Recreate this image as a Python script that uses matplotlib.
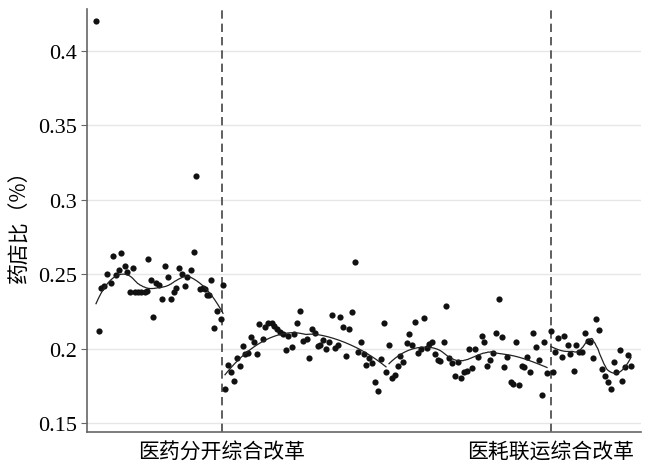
import numpy as np
import matplotlib
matplotlib.use("Agg")
import matplotlib.pyplot as plt

# period index (arbitrary time units) and pharmacy share
x1 = [0, 3, 5, 8, 11, 15, 17, 20, 23, 25, 29, 31, 34, 37, 39, 42, 45, 49, 51, 52,
      55, 57, 60, 63, 66, 69, 72, 75, 78, 80, 83, 86, 89, 91, 95, 98, 100, 104, 107,
      109, 111, 113, 115, 118, 121, 125, 127]
y1 = [0.420, 0.212, 0.2405, 0.242, 0.250, 0.244, 0.262, 0.2495, 0.253, 0.264, 0.2555,
      0.2515, 0.238, 0.254, 0.238, 0.238, 0.238, 0.238, 0.239, 0.2604, 0.246, 0.221,
      0.244, 0.243, 0.233, 0.2555, 0.248, 0.233, 0.238, 0.241, 0.254, 0.250, 0.242,
      0.248, 0.2526, 0.265, 0.3156, 0.240, 0.241, 0.240, 0.236, 0.236, 0.246, 0.214,
      0.225, 0.220, 0.243]

x2 = [129, 132, 135, 138, 141, 144, 147, 149, 152, 155, 158, 161, 163, 167, 169, 172,
      176, 178, 181, 184, 187, 190, 192, 196, 198, 201, 204, 207, 211, 213, 216, 219,
      222, 224, 227, 230, 233, 236, 239, 242, 244, 247, 250, 253, 256, 259, 262, 265,
      268, 270, 273, 276, 279, 282, 285, 288, 290]
y2 = [0.1729, 0.1892, 0.184, 0.178, 0.1934, 0.1885, 0.2015, 0.1963, 0.197, 0.2075,
      0.2046, 0.1963, 0.2164, 0.2064, 0.2142, 0.2171, 0.2171, 0.2149, 0.213, 0.2113,
      0.2097, 0.199, 0.2082, 0.2008, 0.2097, 0.2171, 0.2251, 0.2053, 0.2064, 0.1934,
      0.2131, 0.2108, 0.2019, 0.2024, 0.2059, 0.1997, 0.2046, 0.2225, 0.2001, 0.2024,
      0.221, 0.2142, 0.1952, 0.2131, 0.2247, 0.2582, 0.1974, 0.2041, 0.1963, 0.189,
      0.1934, 0.1901, 0.1774, 0.1718, 0.193, 0.2171, 0.1845]

x3 = [293, 296, 299, 302, 304, 307, 311, 313, 316, 319, 322, 325, 328, 331, 333, 336,
      339, 342, 344, 348, 350, 353, 356, 359, 362, 365, 368, 371, 373, 376, 379, 382,
      386, 388, 391, 394, 397, 400, 403, 406, 408, 411, 415, 417, 420, 423, 426, 428,
      431, 434, 437, 440, 443, 446, 448, 451]
y3 = [0.2026, 0.180, 0.1822, 0.1885, 0.1948, 0.1908, 0.2037, 0.2097, 0.2024, 0.218,
      0.197, 0.1997, 0.2204, 0.2003, 0.203, 0.2046, 0.1963, 0.1925, 0.1918, 0.2041,
      0.2283, 0.1934, 0.1903, 0.1814, 0.1912, 0.180, 0.184, 0.1851, 0.1997, 0.1871,
      0.1997, 0.1941, 0.2082, 0.2041, 0.1885, 0.1923, 0.197, 0.2108, 0.2332, 0.2079,
      0.1874, 0.1945, 0.1774, 0.1762, 0.2046, 0.1756, 0.1885, 0.1874, 0.1941, 0.184,
      0.2104, 0.2008, 0.1925, 0.1689, 0.2046, 0.1836]

x4 = [455, 457, 459, 462, 466, 468, 472, 474, 478, 480, 483, 486, 489, 492, 494, 497,
      500, 503, 506, 509, 512, 515, 518, 520, 524, 526, 529, 532, 535]
y4 = [0.2115, 0.184, 0.1975, 0.2068, 0.1941, 0.2086, 0.2024, 0.1963, 0.1851, 0.2024,
      0.1975, 0.1975, 0.2104, 0.2053, 0.2041, 0.1934, 0.2198, 0.2126, 0.1863, 0.1818,
      0.1778, 0.1729, 0.1912, 0.1845, 0.1992, 0.1784, 0.1878, 0.1956, 0.1881]

reforms = [126, 455]
reform_labels = ["医药分开综合改革", "医耗联运综合改革"]
yticks = [0.15, 0.2, 0.25, 0.3, 0.35, 0.4]


def loess(x, y, span, iters=3, c=12):
    # local quadratic fit, tricube weights; robust passes only drop gross outliers
    x = np.asarray(x, float)
    y = np.asarray(y, float)
    n = len(x)
    k = int(np.ceil(span * n))
    grid = np.linspace(x.min(), x.max(), 200)
    rob = np.ones(n)

    def fit(at):
        out = []
        for g in at:
            d = np.abs(x - g)
            h = np.sort(d)[k - 1] * 1.0001
            w = np.clip(1 - (d / h) ** 3, 0, None) ** 3 * rob
            cf = np.polyfit(x - g, y, 2, w=np.sqrt(w))
            out.append(cf[-1])
        return np.array(out)

    for _ in range(iters):
        res = y - fit(x)
        s = np.median(np.abs(res))
        u = res / (c * s)
        rob = np.clip(1 - u ** 2, 0, None) ** 2
    return grid, fit(grid)


fig = plt.figure(figsize=(6.47, 4.64), dpi=100)
ax = fig.add_axes([87 / 647, 31 / 464, 554 / 647, 423 / 464])

for xs, ys, sp in [(x1, y1, 0.6), (x2, y2, 1.0), (x3, y3, 0.7), (x4, y4, 0.6)]:
    ax.scatter(xs, ys, s=20, color="#111111", linewidths=0, zorder=3)
    gx, gy = loess(xs, ys, sp)
    ax.plot(gx, gy, color="#222222", lw=0.9, zorder=4)

for r in reforms:
    ax.axvline(r, color="#444444", lw=1.2, ls=(0, (5, 3)), zorder=2)

ax.set_xlim(-9, 545)
ax.set_ylim(0.144, 0.428)
ax.set_yticks(yticks)
ax.set_yticklabels([f"{v:g}" for v in yticks], fontsize=16, family="Liberation Serif")
ax.set_xticks(reforms)
ax.set_xticklabels(reform_labels, fontsize=15, family=["Noto Sans CJK SC", "DejaVu Sans"])
ax.tick_params(axis="x", length=0, pad=6)
ax.tick_params(axis="y", length=4, color="#666666", pad=3)
ax.set_ylabel("药店比（%）", fontsize=15, family=["Noto Sans CJK SC", "DejaVu Sans"], labelpad=6)

ax.grid(axis="y", color="#e6e6e6", lw=1)
ax.set_axisbelow(True)
for s in ["top", "right"]:
    ax.spines[s].set_visible(False)
for s in ["left", "bottom"]:
    ax.spines[s].set_color("#666666")
    ax.spines[s].set_linewidth(1.2)

fig.savefig("out.png", dpi=100)
